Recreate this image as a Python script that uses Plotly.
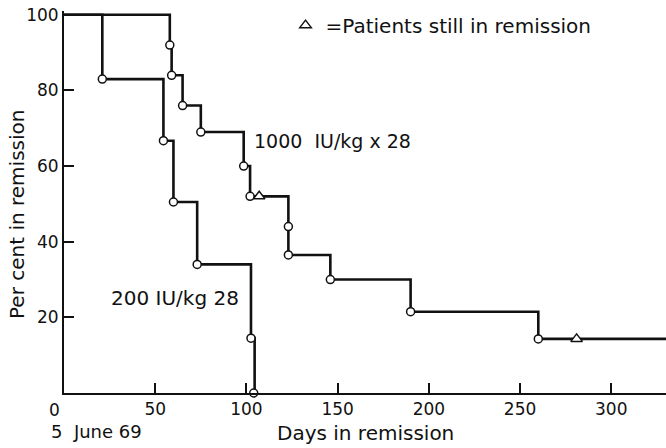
import plotly.graph_objects as go

# ---- data ----
# 1000 IU/kg x 28 group: step curve (time of drop, new level)
hi_days = [0, 58, 59, 65, 75, 98.5, 102, 123, 123, 146, 190, 260, 330]
hi_pct = [100, 92, 84, 76, 69, 60, 52, 44, 36.5, 30, 21.5, 14.3, 14.3]
hi_event_days = [58, 59, 65, 75, 98.5, 102, 123, 123, 146, 190, 260]
hi_event_pct = [92, 84, 76, 69, 60, 52, 44, 36.5, 30, 21.5, 14.3]
hi_censor_days = [107, 281]
hi_censor_pct = [52, 14.3]

# 200 IU/kg 28 group
lo_days = [0, 21, 54.5, 60, 73, 102.5, 104.5]
lo_pct = [100, 83, 66.7, 50.5, 34, 14.5, 0]
lo_event_days = [21, 54.5, 60, 73, 102.5, 104]
lo_event_pct = [83, 66.7, 50.5, 34, 14.5, 0]

x_ticks = [50, 100, 150, 200, 250, 300]
y_ticks = [20, 40, 60, 80, 100]

FONT = "DejaVu Sans"
BLACK = "#111111"

fig = go.Figure()

fig.add_trace(go.Scatter(x=hi_days, y=hi_pct, mode="lines", line=dict(shape="hv", color=BLACK, width=2.6),
                         showlegend=False, cliponaxis=False, hoverinfo="skip"))
fig.add_trace(go.Scatter(x=lo_days, y=lo_pct, mode="lines", line=dict(shape="hv", color=BLACK, width=2.6),
                         showlegend=False, cliponaxis=False, hoverinfo="skip"))

circle = dict(symbol="circle", size=8, color="white", line=dict(color=BLACK, width=1.5))
fig.add_trace(go.Scatter(x=hi_event_days, y=hi_event_pct, mode="markers", marker=circle,
                         showlegend=False, cliponaxis=False))
fig.add_trace(go.Scatter(x=lo_event_days, y=lo_event_pct, mode="markers", marker=circle,
                         showlegend=False, cliponaxis=False))
fig.add_trace(go.Scatter(x=hi_censor_days, y=hi_censor_pct, mode="markers",
                         marker=dict(symbol="triangle-up", size=10, color="white", line=dict(color=BLACK, width=1.5)),
                         name="=Patients still in remission", showlegend=True, cliponaxis=False))

fig.update_layout(
    width=666, height=448,
    margin=dict(l=64, r=0, t=11, b=55),
    paper_bgcolor="white", plot_bgcolor="white",
    font=dict(family=FONT, size=17, color=BLACK),
    legend=dict(x=0.368, y=0.963, xanchor="left", yanchor="middle",
                bgcolor="rgba(0,0,0,0)", font=dict(size=20), borderwidth=0),
    xaxis=dict(range=[0, 330], tickvals=x_ticks, ticks="inside", ticklen=10, tickwidth=1.5,
               tickcolor=BLACK, showline=True, linecolor=BLACK, linewidth=2, showgrid=False,
               zeroline=False, tickfont=dict(size=17)),
    yaxis=dict(range=[0, 101], tickvals=y_ticks, ticks="inside", ticklen=10, tickwidth=1.5,
               tickcolor=BLACK, showline=True, linecolor=BLACK, linewidth=2, showgrid=False,
               zeroline=False, tickfont=dict(size=17)),
)

ann = [
    dict(text="Per cent in remission", x=0, xref="paper", xshift=-47, y=0.466, yref="paper",
         textangle=-90, showarrow=False, font=dict(size=20), xanchor="center", yanchor="middle"),
    dict(text="Days in remission", x=0.5, xref="paper", y=-0.1047, yref="paper",
         showarrow=False, font=dict(size=20), xanchor="center", yanchor="middle"),
    dict(text="0", x=0, xref="x", xshift=-10, y=-0.045, yref="paper",
         showarrow=False, font=dict(size=17), xanchor="center", yanchor="middle"),
    dict(text="5\u00a0 June 69", x=0, xref="x", xshift=-15, y=-0.102, yref="paper",
         showarrow=False, font=dict(size=18), xanchor="left", yanchor="middle"),
    dict(text="1000\u00a0 IU/kg x 28", x=103.3, xref="x", y=66.6, yref="y",
         showarrow=False, font=dict(size=19), xanchor="left", yanchor="middle"),
    dict(text="200 IU/kg 28", x=24.4, xref="x", y=25, yref="y",
         showarrow=False, font=dict(size=20), xanchor="left", yanchor="middle"),
]
fig.update_layout(annotations=ann)

fig.write_html("out.html")
